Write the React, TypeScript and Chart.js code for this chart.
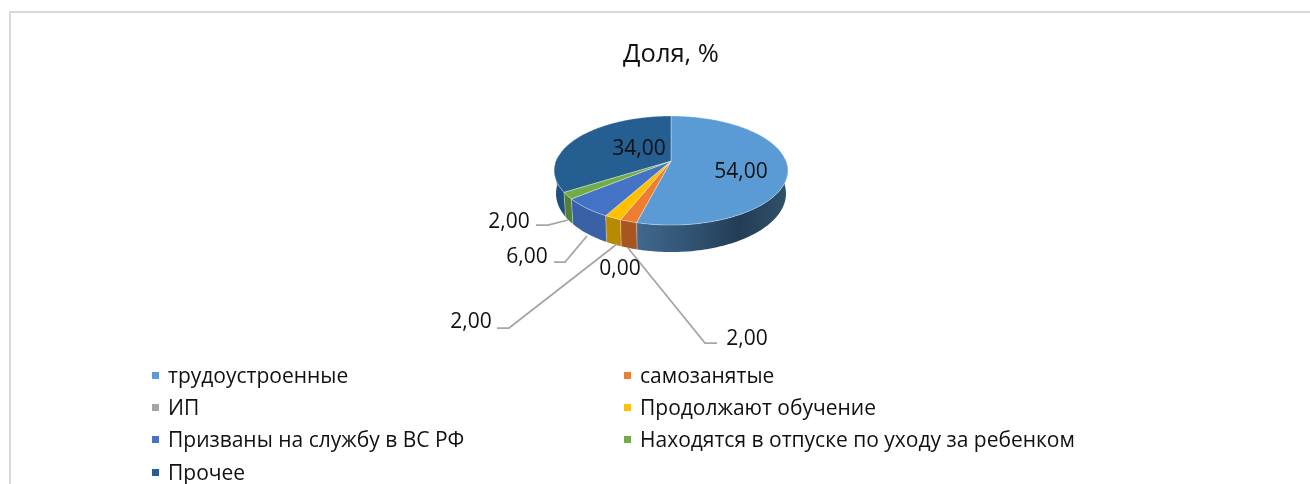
import React, { useEffect, useRef } from "react";
import { Chart, registerables } from "chart.js";

Chart.register(...registerables);

const categories = [
  "трудоустроенные",
  "самозанятые",
  "ИП",
  "Продолжают обучение",
  "Призваны на службу в ВС РФ",
  "Находятся в отпуске по уходу за ребенком",
  "Прочее",
];
const shares = [54, 2, 0, 2, 6, 2, 34];
const colors = ["#5b9bd5", "#ed7d31", "#a5a5a5", "#ffc000", "#4472c4", "#70ad47", "#255e91"];
const wallColors = ["#2f5473", "#a8561f", "#757575", "#b88a00", "#3a60a6", "#52803a", "#1f4f7c"];
const titleText = "Доля, %";

const FONT = '"Open Sans", sans-serif';
const TEXT_SIZE = 21;
const TILT = 0.46;
const PERSPECTIVE = 0.174;
const DEPTH = 22.3;

// label centre, and optional leader polyline, per slice
const labelPos: [number, number][] = [
  [741, 172], [747, 339], [620, 269], [471, 322], [527, 257], [509, 222], [639, 149],
];
const leaders: ([number, number][] | null)[] = [
  null,
  [[717, 343], [705, 343], [628, 248]],
  null,
  [[497, 328], [509, 328], [617, 244]],
  [[554, 262], [565, 262], [587, 236]],
  [[536, 225], [548, 225], [568, 220]],
  null,
];
const legendCols = [152, 624];
const legendRows = [376, 408, 440, 473];

function project(arc: any, theta: number, depth = 0, shrink = 1): [number, number] {
  const r = arc.outerRadius;
  const c = Math.cos(theta);
  const s = Math.sin(theta);
  const w = 1 - PERSPECTIVE * s;
  return [arc.x + (r * c * shrink) / w, arc.y + (r * TILT * s + depth) / w];
}

function rim(ctx: CanvasRenderingContext2D, arc: any, a: number, b: number, depth: number, shrink: number, first: boolean) {
  const n = Math.max(2, Math.ceil(Math.abs(b - a) / 0.02));
  for (let i = 0; i <= n; i++) {
    const [x, y] = project(arc, a + ((b - a) * i) / n, depth, shrink);
    if (i === 0 && first) ctx.moveTo(x, y);
    else ctx.lineTo(x, y);
  }
}

const pie3d = {
  id: "pie3d",
  beforeDatasetsDraw(chart: any) {
    const { ctx } = chart;
    const arcs = chart.getDatasetMeta(0).data;
    ctx.save();
    // side wall: painted back to front, only the part facing the viewer
    arcs.forEach((arc: any, i: number) => {
      const a = Math.max(arc.startAngle, -0.05);
      const b = Math.min(arc.endAngle, Math.PI + 0.05);
      const ranges: [number, number][] = [];
      if (b > a) ranges.push([a, b]);
      if (arc.endAngle > Math.PI * 1.0 && arc.startAngle < Math.PI * 1.1 && i === arcs.length - 1)
        ranges.push([Math.max(arc.startAngle, Math.PI - 0.05), Math.PI + 0.1]);
      ranges.forEach(([p, q]) => {
        ctx.beginPath();
        rim(ctx, arc, p, q, 0, 1, true);
        rim(ctx, arc, q, p, DEPTH, 0.985, false);
        ctx.closePath();
        if (i === 0) {
          const g = ctx.createLinearGradient(636, 0, 787, 0);
          g.addColorStop(0, "#41688f");
          g.addColorStop(0.4, "#2f5170");
          g.addColorStop(0.68, "#233d55");
          g.addColorStop(1, "#2f5269");
          ctx.fillStyle = g;
        } else ctx.fillStyle = wallColors[i];
        ctx.fill();
        if (p > 0.01 && q - p > 0.005) {
          const [x0, y0] = project(arc, p);
          const [x1, y1] = project(arc, p, DEPTH, 0.985);
          ctx.strokeStyle = "rgba(255,255,255,0.35)";
          ctx.lineWidth = 1;
          ctx.beginPath();
          ctx.moveTo(x0, y0);
          ctx.lineTo(x1, y1);
          ctx.stroke();
        }
      });
    });
    // top face
    arcs.forEach((arc: any, i: number) => {
      if (arc.endAngle - arc.startAngle < 1e-4) return;
      ctx.beginPath();
      ctx.moveTo(arc.x, arc.y);
      rim(ctx, arc, arc.startAngle, arc.endAngle, 0, 1, false);
      ctx.closePath();
      ctx.fillStyle = colors[i];
      ctx.fill();
      ctx.strokeStyle = "rgba(255,255,255,0.45)";
      ctx.lineWidth = 0.8;
      ctx.stroke();
    });
    ctx.restore();
    return false;
  },
  afterDraw(chart: any) {
    const { ctx } = chart;
    const values = chart.data.datasets[0].data as number[];
    ctx.save();
    // leader lines
    ctx.strokeStyle = "#a6a6a6";
    ctx.lineWidth = 1.75;
    leaders.forEach((pts) => {
      if (!pts) return;
      ctx.beginPath();
      pts.forEach(([x, y], k) => (k ? ctx.lineTo(x, y) : ctx.moveTo(x, y)));
      ctx.stroke();
    });
    // data labels
    ctx.fillStyle = "#111111";
    ctx.font = `${TEXT_SIZE}px ${FONT}`;
    ctx.textAlign = "center";
    ctx.textBaseline = "middle";
    values.forEach((v, i) => {
      ctx.fillText(v.toFixed(2).replace(".", ","), labelPos[i][0], labelPos[i][1]);
    });
    // legend
    ctx.textAlign = "left";
    (chart.data.labels as string[]).forEach((label, i) => {
      const col = legendCols[i % 2];
      const y = legendRows[Math.floor(i / 2)];
      ctx.fillStyle = colors[i];
      ctx.fillRect(col, y - 4, 7, 7);
      ctx.fillStyle = "#111111";
      ctx.fillText(label, col + 16, y + 1);
    });
    // frame
    ctx.fillStyle = "#d9d9d9";
    ctx.fillRect(10, 11, 1300, 2);
    ctx.fillRect(9, 11, 2, 473);
    ctx.restore();
  },
};

export default function App() {
  const ref = useRef<HTMLCanvasElement>(null);
  useEffect(() => {
    const chart = new Chart(ref.current!, {
      type: "pie",
      data: {
        labels: categories,
        datasets: [{ data: shares, backgroundColor: colors, borderWidth: 0 }],
      },
      options: {
        responsive: false,
        animation: false,
        layout: { padding: { left: 556, right: 524, top: 41, bottom: 208 } },
        plugins: {
          legend: { display: false },
          tooltip: { enabled: false },
          title: {
            display: true,
            text: titleText,
            fullSize: false,
            color: "#111111",
            font: { family: FONT, size: 25.5, weight: "normal", lineHeight: 1.1 },
            padding: { top: 0, bottom: -23 },
          },
        },
      },
      plugins: [pie3d],
    } as any);
    return () => chart.destroy();
  }, []);
  return (
    <div style={{ position: "absolute", left: 0, top: 0, width: 1310, height: 484, background: "#fff" }}>
      <canvas ref={ref} width={1310} height={484} style={{ display: "block" }} />
    </div>
  );
}
